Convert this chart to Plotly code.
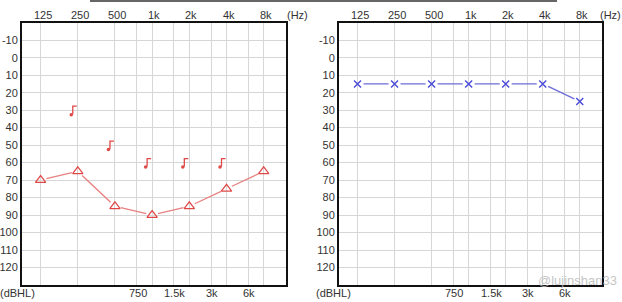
import math
import plotly.graph_objects as go

# ---------------- data ----------------
freqs_oct = [125, 250, 500, 1000, 2000, 4000, 8000]
top_labels = ["125", "250", "500", "1k", "2k", "4k", "8k"]
freqs_mid = [750, 1500, 3000, 6000]
mid_labels = ["750", "1.5k", "3k", "6k"]
db_ticks = list(range(-10, 130, 10))

left_ac = [70, 65, 85, 90, 85, 75, 65]          # red triangles
left_bc_freqs = [250, 500, 1000, 2000, 4000]
left_bc = [30, 50, 60, 60, 60]                  # red bracket symbols
right_ac = [15, 15, 15, 15, 15, 15, 25]         # blue crosses

# ---------------- geometry ----------------
W, H = 622, 302
FONT = "Liberation Sans, Arial, sans-serif"
XR = [-0.5, 6.6]
YR = [130, -20]
L_DOM = [22 / W, 286 / W]
R_DOM = [339 / W, 602 / W]
Y_DOM = [1 - 285 / H, 1 - 22.7 / H]
px_x = (L_DOM[1] - L_DOM[0]) * W / (XR[1] - XR[0])   # px per octave
px_y = (Y_DOM[1] - Y_DOM[0]) * H / (YR[0] - YR[1])   # px per dB


def lx(f):
    return math.log2(f / 125.0)


def gapped_segments(xs, ys, gap):
    """Segments between consecutive points shortened by `gap` pixels at both ends."""
    sx, sy = [], []
    for i in range(len(xs) - 1):
        dxp = (xs[i + 1] - xs[i]) * px_x
        dyp = (ys[i + 1] - ys[i]) * px_y
        d = math.hypot(dxp, dyp)
        t = gap / d
        sx += [xs[i] + (xs[i + 1] - xs[i]) * t, xs[i + 1] - (xs[i + 1] - xs[i]) * t, None]
        sy += [ys[i] + (ys[i + 1] - ys[i]) * t, ys[i + 1] - (ys[i + 1] - ys[i]) * t, None]
    return sx, sy


fig = go.Figure()

RED = "#e04848"
RED_LINE = "#e88080"
BLUE = "#4a4ad8"
BLUE_LINE = "#6c6cd8"

# left: air conduction
xo = [lx(f) for f in freqs_oct]
sx, sy = gapped_segments(xo, left_ac, 6)
fig.add_trace(go.Scatter(x=sx, y=sy, mode="lines", line=dict(color=RED_LINE, width=1.3),
                         xaxis="x", yaxis="y", hoverinfo="skip", showlegend=False))
fig.add_trace(go.Scatter(x=xo, y=left_ac, mode="markers",
                         marker=dict(symbol="triangle-up-open", size=9, color=RED,
                                     line=dict(color=RED, width=1.2)),
                         xaxis="x", yaxis="y", showlegend=False))

# left: bone conduction bracket symbols
bx, by, dx_, dy_ = [], [], [], []
for f, v in zip(left_bc_freqs, left_bc):
    x0 = lx(f)
    xv = x0 - 5 / px_x
    xr = x0 - 1 / px_x
    yt = v - 4 / px_y
    yb = v + 4 / px_y
    bx += [xr, xv, xv, None]
    by += [yt, yt, yb, None]
    dx_.append(x0 - 6.5 / px_x)
    dy_.append(v + 4.5 / px_y)
fig.add_trace(go.Scatter(x=bx, y=by, mode="lines", line=dict(color=RED, width=1.3),
                         xaxis="x", yaxis="y", hoverinfo="skip", showlegend=False))
fig.add_trace(go.Scatter(x=dx_, y=dy_, mode="markers",
                         marker=dict(symbol="circle", size=3.5, color=RED),
                         xaxis="x", yaxis="y", showlegend=False))

# right: crosses
sx, sy = gapped_segments(xo, right_ac, 6)
fig.add_trace(go.Scatter(x=sx, y=sy, mode="lines", line=dict(color=BLUE_LINE, width=1.3),
                         xaxis="x2", yaxis="y2", hoverinfo="skip", showlegend=False))
fig.add_trace(go.Scatter(x=xo, y=right_ac, mode="markers",
                         marker=dict(symbol="x-thin-open", size=7, color=BLUE,
                                     line=dict(color=BLUE, width=1.4)),
                         xaxis="x2", yaxis="y2", showlegend=False))

GRID = "#d6d6d6"
TICKFONT = dict(family=FONT, size=11, color="#333333")
allf = sorted(freqs_oct + freqs_mid)


def xaxis(domain, anchor):
    # gridlines at every frequency; labels drawn as annotations
    return dict(domain=domain, anchor=anchor, range=XR, side="bottom",
                tickvals=[lx(f) for f in allf], showticklabels=False,
                showgrid=True, gridcolor=GRID, gridwidth=1, zeroline=False,
                showline=True, mirror=True, linecolor="#111111", linewidth=2,
                ticks="", fixedrange=True)


def yaxis(anchor):
    return dict(domain=Y_DOM, anchor=anchor, range=YR, tickvals=db_ticks,
                ticktext=[str(v) for v in db_ticks],
                showgrid=True, gridcolor=GRID, gridwidth=1, zeroline=False,
                showline=True, mirror=True, linecolor="#111111", linewidth=2,
                ticks="", tickfont=TICKFONT, fixedrange=True)


ann_font = dict(family=FONT, size=11, color="#333333")
annotations = []
for xref in ("x", "x2"):
    for f, lab in zip(freqs_oct, top_labels):
        annotations.append(dict(text=lab, x=lx(f), y=1 - 15 / H, xref=xref, yref="paper",
                                showarrow=False, font=ann_font, xanchor="center",
                                yanchor="middle", xshift=2))
    for f, lab in zip(freqs_mid, mid_labels):
        annotations.append(dict(text=lab, x=lx(f), y=1 - 293 / H, xref=xref, yref="paper",
                                showarrow=False, font=ann_font, xanchor="center",
                                yanchor="middle", xshift=1))
annotations += [
    dict(text="(Hz)", x=297 / W, y=1 - 15 / H, xref="paper", yref="paper",
         showarrow=False, font=ann_font, xanchor="center", yanchor="middle"),
    dict(text="(Hz)", x=610 / W, y=1 - 15 / H, xref="paper", yref="paper",
         showarrow=False, font=ann_font, xanchor="center", yanchor="middle"),
    dict(text="(dBHL)", x=17 / W, y=1 - 293 / H, xref="paper", yref="paper",
         showarrow=False, font=ann_font, xanchor="center", yanchor="middle"),
    dict(text="(dBHL)", x=333 / W, y=1 - 293 / H, xref="paper", yref="paper",
         showarrow=False, font=ann_font, xanchor="center", yanchor="middle"),
    dict(text="@lujinshan33", x=577 / W, y=1 - 280 / H, xref="paper", yref="paper",
         showarrow=False, font=dict(family=FONT, size=13, color="rgba(185,185,185,0.85)"),
         xanchor="center", yanchor="middle"),
]

fig.update_layout(
    width=W, height=H,
    margin=dict(l=0, r=0, t=0, b=0),
    paper_bgcolor="white", plot_bgcolor="white",
    xaxis=xaxis(L_DOM, "y"),
    yaxis=yaxis("x"),
    xaxis2=xaxis(R_DOM, "y2"),
    yaxis2=yaxis("x2"),
    annotations=annotations,
    shapes=[dict(type="line", xref="paper", yref="paper",
                 x0=90 / W, x1=557 / W, y0=1 - 1 / H, y1=1 - 1 / H,
                 line=dict(color="#666666", width=2))],
    showlegend=False,
)

fig.write_html("out.html")
